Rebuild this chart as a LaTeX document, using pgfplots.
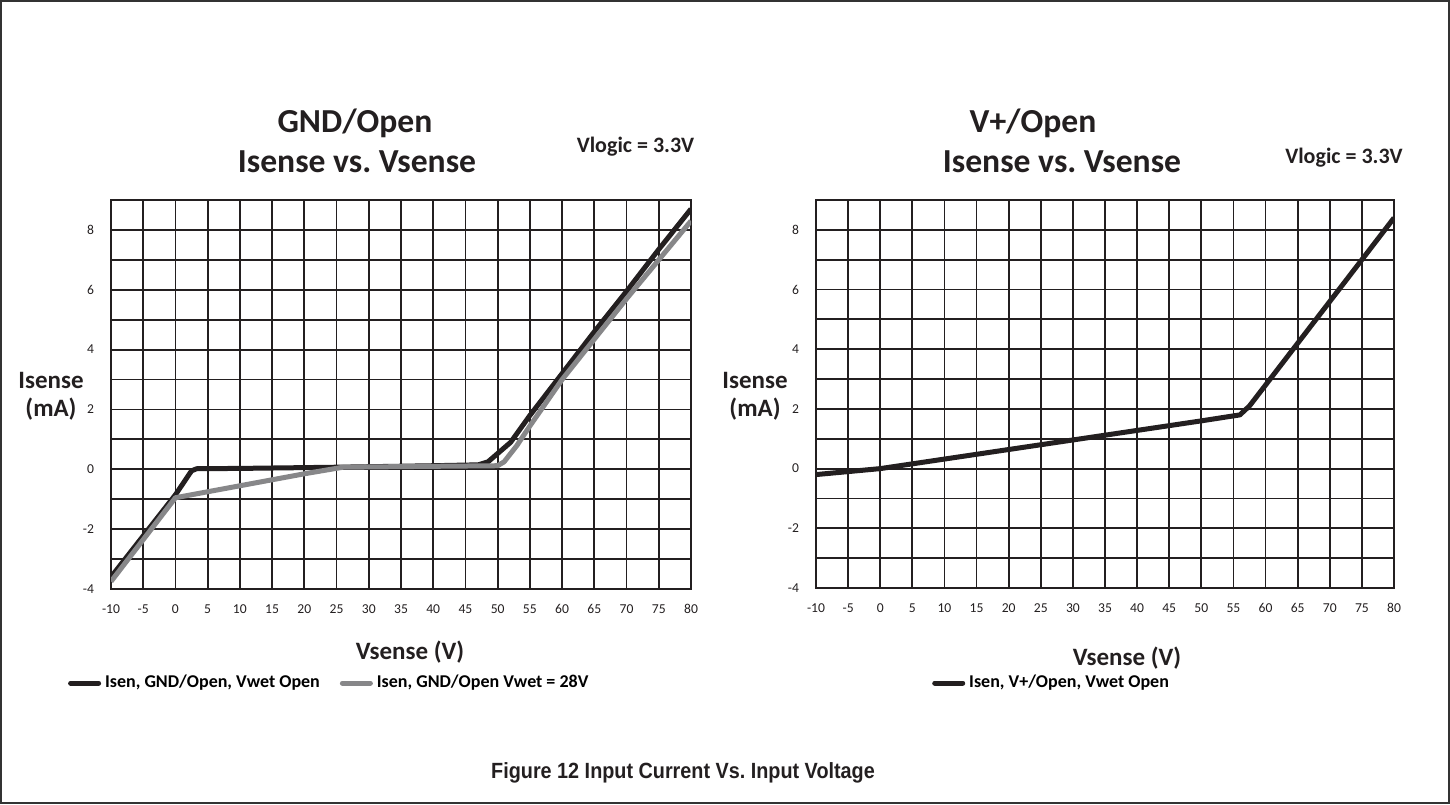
\documentclass[border=0pt]{standalone}
\usepackage{pgfplots}
\pgfplotsset{compat=1.18}
\usepackage{fontspec}
\setmainfont{Carlito}
\newfontfamily\capfont{Liberation Sans}
\definecolor{blk}{RGB}{35,31,32}
\definecolor{gry}{RGB}{135,135,137}
\pgfplotsset{
 myax/.style={
  scale only axis, width=290pt, height=194.5pt,
  xmin=-10, xmax=80, ymin=-4, ymax=9,
  xtick={-10,-5,...,80}, ytick={-4,-2,...,8}, minor ytick={-3,-1,...,9},
  grid=both,
  major grid style={line width=0.9pt, color=blk},
  minor grid style={line width=0.9pt, color=blk},
  axis line style={line width=0.9pt, color=blk},
  major tick length=0pt, minor tick length=0pt,
  tick label style={font=\fontsize{6.8}{7}\selectfont, text=blk},
  /pgf/number format/assume math mode=true,
  xticklabel style={yshift=-3.5pt, text height=5pt, text depth=0pt},
  yticklabel style={xshift=-5pt},
  legend style={draw=none, fill=none, legend columns=2, font=\bfseries\fontsize{9}{10}\selectfont,
    /tikz/every even column/.append style={column sep=8pt}},
  legend image code/.code={\draw[##1, line width=2.5pt, line cap=round] (0pt,0pt) -- (14pt,0pt);},
 }
}
\begin{document}
\frenchspacing
\begin{tikzpicture}
\useasboundingbox (0,0) rectangle (725pt,402pt);
\draw[line width=1pt, black!80] (0.5pt,0.5pt) rectangle (724.5pt,401.5pt);

\begin{axis}[myax, at={(55.5pt,107.5pt)}, anchor=south west,
  legend style={at={(-0.085,-0.242)}, anchor=west}]
\addplot[blk, line width=2.5pt, line join=round] coordinates {
(-10,-3.6) (0,-0.85) (2.5,-0.05) (3.3,0.02) (10,0.03) (25,0.07) (40,0.12) (47,0.15) (48.5,0.25) (52,0.9) (55,1.8) (60,3.2) (65,4.6) (70,5.95) (75,7.35) (80,8.7)};
\addlegendentry{Isen, GND/Open, Vwet Open}
\addplot[gry, line width=2.5pt, line join=round] coordinates {
(-10,-3.75) (0,-0.95) (10,-0.55) (20,-0.15) (26,0.07) (35,0.09) (45,0.11) (50,0.12) (51,0.25) (53,0.8) (55,1.45) (60,3.0) (65,4.35) (70,5.7) (75,7.0) (80,8.3)};
\addlegendentry{Isen, GND/Open Vwet = 28V}
\end{axis}

\begin{axis}[myax, at={(408pt,108pt)}, anchor=south west, width=289pt, height=194pt,
  legend style={at={(0.19,-0.245)}, anchor=west}]
\addplot[blk, line width=2.5pt, line join=round] coordinates {
(-10,-0.2) (0,0) (10,0.32) (20,0.64) (30,0.96) (40,1.28) (50,1.6) (56,1.8) (57.5,2.1) (60,2.8) (65,4.2) (70,5.6) (75,7.0) (80,8.4)};
\addlegendentry{Isen, V+/Open, Vwet Open}
\end{axis}

\begin{scope}[every node/.style={text=blk, font=\bfseries}]
\node[font=\bfseries\fontsize{16.8}{18}\selectfont] at (177.5pt,340.5pt) {GND/Open};
\node[font=\bfseries\fontsize{16.8}{18}\selectfont] at (178.5pt,321pt) {Isense vs. Vsense};
\node[font=\bfseries\fontsize{11}{12}\selectfont] at (317.75pt,328.5pt) {Vlogic = 3.3V};
\node[font=\bfseries\fontsize{16.8}{18}\selectfont] at (516.5pt,340.5pt) {V+/Open};
\node[font=\bfseries\fontsize{16.8}{18}\selectfont] at (531pt,321pt) {Isense vs. Vsense};
\node[font=\bfseries\fontsize{11}{12}\selectfont] at (672pt,323pt) {Vlogic = 3.3V};
\node[font=\bfseries\fontsize{12.5}{14}\selectfont, align=center] at (25.5pt,204pt) {Isense\\(mA)};
\node[font=\bfseries\fontsize{12.5}{14}\selectfont, align=center] at (377.5pt,204pt) {Isense\\(mA)};
\node[font=\bfseries\fontsize{12.5}{14}\selectfont] at (205pt,76pt) {Vsense (V)};
\node[font=\bfseries\fontsize{12.5}{14}\selectfont] at (563.5pt,73pt) {Vsense (V)};
\node[font=\capfont\bfseries\fontsize{11}{12}\selectfont] at (341.5pt,15.5pt) {\scalebox{0.9}[1]{Figure 12 Input Current Vs. Input Voltage}};
\end{scope}
\end{tikzpicture}
\end{document}
